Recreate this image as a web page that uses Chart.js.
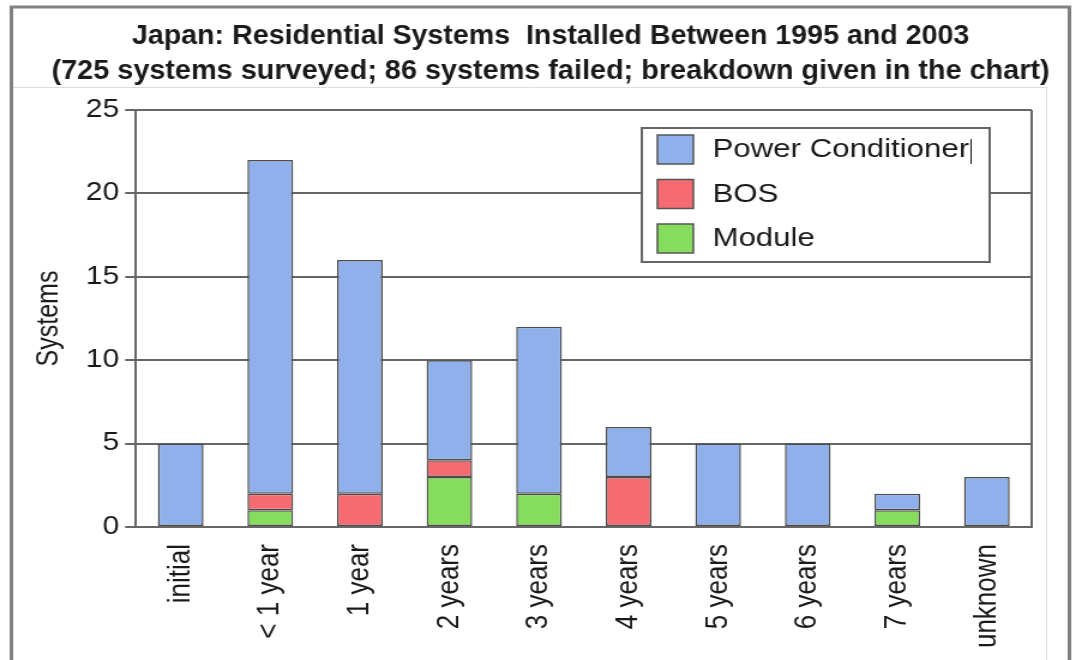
<!DOCTYPE html>
<html lang="en">
<head>
    <meta charset="UTF-8">
    <title>Japan residential systems</title>
    <script src="https://cdn.jsdelivr.net/npm/chart.js"></script>
    <style>
        body { margin: 0; background: #fff; }
        /* the source picture is stretched sideways, so the canvas is too */
        #myChart { display: block; transform: scaleX(1.1996); transform-origin: 0 0; }
    </style>
</head>
<body>
    <canvas id="myChart" width="897" height="660"></canvas>
    <script>
        const categories = ['initial', '< 1 year', '1 year', '2 years', '3 years', '4 years', '5 years', '6 years', '7 years', 'unknown'];
        const powerConditioner = [5, 20, 14, 6, 10, 3, 5, 5, 1, 3];
        const bos = [0, 1, 2, 1, 0, 3, 0, 0, 0, 0];
        const moduleFails = [0, 1, 0, 3, 2, 0, 0, 0, 1, 0];
        const yTicks = [0, 5, 10, 15, 20, 25];
        const titleLines = [
            'Japan: Residential Systems  Installed Between 1995 and 2003',
            '(725 systems surveyed; 86 systems failed; breakdown given in the chart)'
        ];

        Chart.defaults.font.family = '"Liberation Sans", Arial, sans-serif';
        Chart.defaults.color = '#1a1a1a';

        const gridGrey = '#666';

        // frame, title, plot border and the boxed legend
        const decorations = {
            id: 'decorations',
            beforeDraw(chart) {
                const ctx = chart.ctx;
                ctx.save();
                ctx.fillStyle = '#fff';
                ctx.fillRect(0, 0, chart.width, chart.height);
                // outer frame
                ctx.strokeStyle = '#808080';
                ctx.lineWidth = 3;
                ctx.beginPath();
                ctx.moveTo(9.5, 670);
                ctx.lineTo(9.5, 7);
                ctx.lineTo(891.5, 7);
                ctx.lineTo(891.5, 670);
                ctx.stroke();
                // faint inner box
                ctx.strokeStyle = '#dcdcdc';
                ctx.lineWidth = 1;
                ctx.beginPath();
                ctx.moveTo(11, 87.5);
                ctx.lineTo(872.5, 87.5);
                ctx.lineTo(872.5, 670);
                ctx.stroke();
                // title, squeezed to the width of the original lines
                const widths = [698, 832];
                const baselines = [44, 79];
                ctx.fillStyle = '#1a1a1a';
                ctx.font = 'bold 27px "Liberation Sans Narrow", "Liberation Sans", sans-serif';
                ctx.textAlign = 'center';
                ctx.textBaseline = 'alphabetic';
                titleLines.forEach((line, i) => {
                    const w = ctx.measureText(line).width;
                    const sx = widths[i] / w;
                    ctx.save();
                    ctx.translate(459, baselines[i]);
                    ctx.scale(sx, 1);
                    ctx.fillText(line, 0, 0);
                    ctx.restore();
                });
                ctx.restore();
            },
            afterDatasetsDraw(chart) {
                const ctx = chart.ctx;
                const area = chart.chartArea;
                ctx.save();
                ctx.strokeStyle = gridGrey;
                ctx.lineWidth = 2;
                ctx.beginPath();
                ctx.moveTo(area.right, area.top);
                ctx.lineTo(area.right, area.bottom);
                ctx.stroke();

                // legend box
                const bx = 535, by = 128, bw = 290, bh = 134;
                ctx.fillStyle = '#fff';
                ctx.fillRect(bx, by, bw, bh);
                ctx.strokeStyle = gridGrey;
                ctx.lineWidth = 2;
                ctx.strokeRect(bx, by, bw, bh);

                const items = chart.data.datasets.slice().reverse();
                ctx.font = '26px "Liberation Sans", Arial, sans-serif';
                ctx.textAlign = 'left';
                ctx.textBaseline = 'middle';
                let firstEnd = 0;
                items.forEach((ds, i) => {
                    const sy = 135 + i * 44.5;
                    ctx.fillStyle = ds.backgroundColor;
                    ctx.fillRect(548, sy, 30, 29);
                    ctx.strokeStyle = '#555';
                    ctx.lineWidth = 1.5;
                    ctx.strokeRect(548, sy, 30, 29);
                    ctx.fillStyle = '#1a1a1a';
                    ctx.fillText(ds.label, 594, sy + 15);
                    if (i === 0) firstEnd = 594 + ctx.measureText(ds.label).width;
                });
                // stray text cursor after the first entry in the original
                ctx.strokeStyle = '#1a1a1a';
                ctx.lineWidth = 1;
                ctx.beginPath();
                ctx.moveTo(Math.round(firstEnd) + 1.5, 139);
                ctx.lineTo(Math.round(firstEnd) + 1.5, 164);
                ctx.stroke();
                ctx.restore();
            }
        };

        const ctx = document.getElementById('myChart');

        new Chart(ctx, {
            type: 'bar',
            data: {
                labels: categories,
                datasets: [
                    {
                        label: 'Module',
                        data: moduleFails,
                        backgroundColor: '#85dc5d'
                    },
                    {
                        label: 'BOS',
                        data: bos,
                        backgroundColor: '#f66b72'
                    },
                    {
                        label: 'Power Conditioner',
                        data: powerConditioner,
                        backgroundColor: '#8fb0ea'
                    }
                ]
            },
            options: {
                responsive: false,
                animation: false,
                devicePixelRatio: 1,
                layout: {
                    padding: { top: 110, left: 0, right: 37, bottom: 0 }
                },
                datasets: {
                    bar: {
                        borderColor: '#4d4d4d',
                        borderWidth: 1.5,
                        borderSkipped: false,
                        barPercentage: 0.51,
                        categoryPercentage: 1
                    }
                },
                scales: {
                    x: {
                        stacked: true,
                        grid: { display: false, drawTicks: false },
                        border: { color: gridGrey, width: 2 },
                        ticks: {
                            autoSkip: false,
                            minRotation: 90,
                            maxRotation: 90,
                            padding: 17,
                            font: { size: 26 }
                        },
                        afterFit(scale) { scale.height = 133; }
                    },
                    y: {
                        stacked: true,
                        min: 0,
                        max: 25,
                        afterBuildTicks(scale) {
                            scale.ticks = yTicks.map(v => ({ value: v }));
                        },
                        grid: { color: gridGrey, lineWidth: 2, tickLength: 9, tickColor: gridGrey },
                        border: { color: gridGrey, width: 2 },
                        ticks: { padding: 5, font: { size: 25 } },
                        title: {
                            display: true,
                            text: 'Systems',
                            font: { size: 25 },
                            padding: { top: 26, bottom: 0 }
                        },
                        afterFit(scale) { scale.width = 113.3; }
                    }
                },
                plugins: {
                    legend: { display: false },
                    tooltip: { enabled: false }
                }
            },
            plugins: [decorations]
        });
    </script>
</body>
</html>
